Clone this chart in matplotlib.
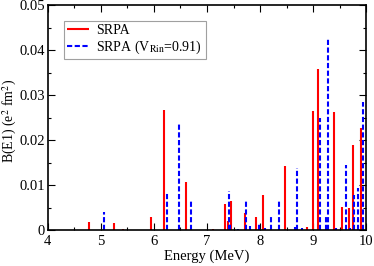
import matplotlib
matplotlib.use("Agg")
import matplotlib.pyplot as plt
from matplotlib.ticker import MultipleLocator

plt.rcParams['font.family'] = ['Liberation Serif', 'DejaVu Serif']
plt.rcParams['mathtext.fontset'] = 'stix'

# SRPA (red solid)
srpa_E = [4.77, 5.245, 5.42, 5.94, 6.18, 6.60, 7.12, 7.33, 7.39, 7.45, 7.71, 7.92,
          8.06, 8.47, 8.89, 9.00, 9.09, 9.39, 9.55, 9.67, 9.75, 9.90]
srpa_B = [0.0018, 0.0016, 0.0002, 0.0028, 0.0267, 0.0107, 0.0003, 0.0058, 0.0020, 0.0065,
          0.0039, 0.0028, 0.0079, 0.0142, 0.0007, 0.0264, 0.0359, 0.0262, 0.0052, 0.0050,
          0.0189, 0.0226]

# SRPA (V_Rin=0.91) (blue dashed)
vrin_E = [5.06, 6.24, 6.47, 6.70, 7.415, 7.43, 7.59, 7.74, 7.81, 7.98, 8.09, 8.21,
          8.36, 8.65, 8.69, 8.79, 9.13, 9.24, 9.28, 9.43, 9.62, 9.70, 9.77, 9.84, 9.95]
vrin_B = [0.0040, 0.0085, 0.0238, 0.0067, 0.0087, 0.0015, 0.0003, 0.0067, 0.0010, 0.0015,
          0.0004, 0.0028, 0.0067, 0.0007, 0.0138, 0.0004, 0.0248, 0.0032, 0.0425, 0.0004,
          0.0145, 0.0004, 0.0078, 0.0093, 0.0285]

fig = plt.figure(figsize=(3.74, 2.66), dpi=100)
ax = fig.add_axes([0.128, 0.135, 0.851, 0.846])

ax.vlines(srpa_E, 0, srpa_B, colors='#ff0000', linewidth=1.5, label='SRPA')
ax.vlines(vrin_E, 0, vrin_B, colors='#0000ff', linewidth=1.5, linestyles=(0, (2.5, 1.2)),
          label=r'SRPA (V$_{\rm Rin}$=0.91)')

ax.set_xlim(4, 10)
ax.set_ylim(0, 0.05)
ax.xaxis.set_major_locator(MultipleLocator(1))
ax.xaxis.set_minor_locator(MultipleLocator(0.5))
ax.yaxis.set_major_locator(MultipleLocator(0.01))
ax.yaxis.set_minor_locator(MultipleLocator(0.005))
ax.yaxis.set_major_formatter(plt.FuncFormatter(lambda v, p: '0' if abs(v) < 1e-12 else f'{v:.2f}'))
ax.tick_params(which='both', direction='in', top=True, right=True, labelsize=10.5)
ax.tick_params(which='major', length=5, width=0.8)
ax.tick_params(which='minor', length=2.5, width=0.8)
ax.tick_params(axis='y', pad=2)
for s in ax.spines.values():
    s.set_linewidth(1.2)

ax.set_xlabel('Energy (MeV)', fontsize=10.5, labelpad=1)
fig.text(9.5 / 374, 0.5 + 0.135 / 2 - 0.02, r'B(E1) (e$^2$ fm$^2$)', fontsize=10,
         rotation=90, ha='center', va='center')

leg = ax.legend(loc='upper left', bbox_to_anchor=(0.05, 0.93), fontsize=10, frameon=True,
                fancybox=False, edgecolor='#888888', handlelength=1.6, borderpad=0.25,
                labelspacing=0.1, handletextpad=0.5, borderaxespad=0)
leg.get_frame().set_linewidth(0.8)

fig.savefig('out.png', dpi=100)
